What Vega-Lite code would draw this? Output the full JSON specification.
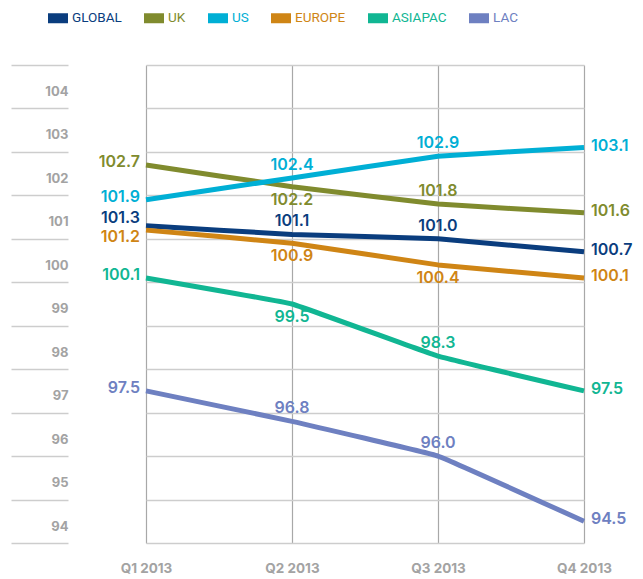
{
  "$schema": "https://vega.github.io/schema/vega-lite/v6.json",
  "width": 557,
  "height": 478,
  "autosize": {"type": "none"},
  "padding": {"left": 80, "top": 65, "right": 6, "bottom": 36},
  "background": "white",
  "config": {"view": {"stroke": null}},
  "data": {
    "values": [
      {"series": "GLOBAL", "quarter": "Q1 2013", "value": 101.3},
      {"series": "GLOBAL", "quarter": "Q2 2013", "value": 101.1},
      {"series": "GLOBAL", "quarter": "Q3 2013", "value": 101.0},
      {"series": "GLOBAL", "quarter": "Q4 2013", "value": 100.7},
      {"series": "UK", "quarter": "Q1 2013", "value": 102.7},
      {"series": "UK", "quarter": "Q2 2013", "value": 102.2},
      {"series": "UK", "quarter": "Q3 2013", "value": 101.8},
      {"series": "UK", "quarter": "Q4 2013", "value": 101.6},
      {"series": "US", "quarter": "Q1 2013", "value": 101.9},
      {"series": "US", "quarter": "Q2 2013", "value": 102.4},
      {"series": "US", "quarter": "Q3 2013", "value": 102.9},
      {"series": "US", "quarter": "Q4 2013", "value": 103.1},
      {"series": "EUROPE", "quarter": "Q1 2013", "value": 101.2},
      {"series": "EUROPE", "quarter": "Q2 2013", "value": 100.9},
      {"series": "EUROPE", "quarter": "Q3 2013", "value": 100.4},
      {"series": "EUROPE", "quarter": "Q4 2013", "value": 100.1},
      {"series": "ASIAPAC", "quarter": "Q1 2013", "value": 100.1},
      {"series": "ASIAPAC", "quarter": "Q2 2013", "value": 99.5},
      {"series": "ASIAPAC", "quarter": "Q3 2013", "value": 98.3},
      {"series": "ASIAPAC", "quarter": "Q4 2013", "value": 97.5},
      {"series": "LAC", "quarter": "Q1 2013", "value": 97.5},
      {"series": "LAC", "quarter": "Q2 2013", "value": 96.8},
      {"series": "LAC", "quarter": "Q3 2013", "value": 96.0},
      {"series": "LAC", "quarter": "Q4 2013", "value": 94.5}
    ]
  },
  "encoding": {
    "x": {
      "field": "quarter",
      "type": "ordinal",
      "sort": ["Q1 2013", "Q2 2013", "Q3 2013", "Q4 2013"],
      "scale": {"type": "point", "range": [66, 504], "padding": 0},
      "axis": {
        "title": null,
        "domain": false,
        "ticks": false,
        "grid": true,
        "gridColor": "#a8a8a8",
        "gridWidth": 1.2,
        "labelAngle": 0,
        "labelPadding": 18,
        "labelFont": "Inter",
        "labelFontWeight": "bold",
        "labelFontSize": 13.5,
        "labelColor": "#a3a3a3"
      }
    },
    "y": {
      "field": "value",
      "type": "quantitative",
      "scale": {"domain": [94, 105], "nice": false, "zero": false},
      "axis": {
        "title": null,
        "domain": false,
        "values": [94, 95, 96, 97, 98, 99, 100, 101, 102, 103, 104, 105],
        "grid": true,
        "gridColor": "#cdcdcd",
        "gridWidth": 1.5,
        "ticks": true,
        "tickSize": 57,
        "tickColor": "#cdcdcd",
        "tickWidth": 1.5,
        "offset": 12,
        "labelPadding": -57,
        "labelOffset": -17,
        "labelExpr": "datum.value == 105 ? '' : datum.label",
        "labelFont": "Inter",
        "labelFontWeight": "bold",
        "labelFontSize": 13,
        "labelColor": "#a3a3a3"
      }
    },
    "color": {
      "field": "series",
      "type": "nominal",
      "scale": {
        "domain": ["GLOBAL", "UK", "US", "EUROPE", "ASIAPAC", "LAC"],
        "range": ["#0a3d7e", "#808b2e", "#00afd5", "#cf8515", "#11b693", "#6e80c1"]
      },
      "legend": {
        "orient": "none",
        "legendX": -32,
        "legendY": -57,
        "direction": "horizontal",
        "title": null,
        "symbolType": "M-1,-0.5H1V0.5H-1Z",
        "symbolSize": 400,
        "symbolStrokeWidth": 0,
        "labelFont": "Roboto",
        "labelFontSize": 13.5,
        "labelOffset": 4,
        "columnPadding": 22,
        "encode": {
          "labels": {"update": {"fill": {"scale": "color", "field": "value"}}},
          "symbols": {"update": {"fill": {"scale": "color", "field": "value"}, "fillOpacity": {"value": 1}}}
        }
      }
    }
  },
  "layer": [
    {"mark": {"type": "line", "strokeWidth": 5, "interpolate": "cardinal", "tension": 0.8, "strokeJoin": "round"}},
    {
      "transform": [{"filter": "datum.quarter == 'Q1 2013' && datum.series != 'GLOBAL' && datum.series != 'EUROPE'"}],
      "mark": {"type": "text", "align": "right", "baseline": "middle", "dx": -6, "dy": -3, "font": "Inter", "fontWeight": 600, "fontSize": 16},
      "encoding": {"text": {"field": "value", "type": "quantitative", "format": ".1f"}}
    },
    {
      "transform": [{"filter": "datum.quarter == 'Q1 2013' && datum.series == 'GLOBAL'"}],
      "mark": {"type": "text", "align": "right", "baseline": "middle", "dx": -6, "dy": -8, "font": "Inter", "fontWeight": 600, "fontSize": 16},
      "encoding": {"text": {"field": "value", "type": "quantitative", "format": ".1f"}}
    },
    {
      "transform": [{"filter": "datum.quarter == 'Q1 2013' && datum.series == 'EUROPE'"}],
      "mark": {"type": "text", "align": "right", "baseline": "middle", "dx": -6, "dy": 7, "font": "Inter", "fontWeight": 600, "fontSize": 16},
      "encoding": {"text": {"field": "value", "type": "quantitative", "format": ".1f"}}
    },
    {
      "transform": [{"filter": "datum.quarter == 'Q4 2013'"}],
      "mark": {"type": "text", "align": "left", "baseline": "middle", "dx": 7, "dy": -2, "font": "Inter", "fontWeight": 600, "fontSize": 16},
      "encoding": {"text": {"field": "value", "type": "quantitative", "format": ".1f"}}
    },
    {
      "transform": [{"filter": "(datum.quarter == 'Q2 2013' && indexof(['GLOBAL','US','LAC'], datum.series) >= 0) || (datum.quarter == 'Q3 2013' && indexof(['GLOBAL','UK','US','ASIAPAC','LAC'], datum.series) >= 0)"}],
      "mark": {"type": "text", "align": "center", "baseline": "middle", "dy": -13, "font": "Inter", "fontWeight": 600, "fontSize": 16},
      "encoding": {"text": {"field": "value", "type": "quantitative", "format": ".1f"}}
    },
    {
      "transform": [{"filter": "(datum.quarter == 'Q2 2013' && indexof(['UK','EUROPE','ASIAPAC'], datum.series) >= 0) || (datum.quarter == 'Q3 2013' && datum.series == 'EUROPE')"}],
      "mark": {"type": "text", "align": "center", "baseline": "middle", "dy": 13, "font": "Inter", "fontWeight": 600, "fontSize": 16},
      "encoding": {"text": {"field": "value", "type": "quantitative", "format": ".1f"}}
    }
  ]
}
